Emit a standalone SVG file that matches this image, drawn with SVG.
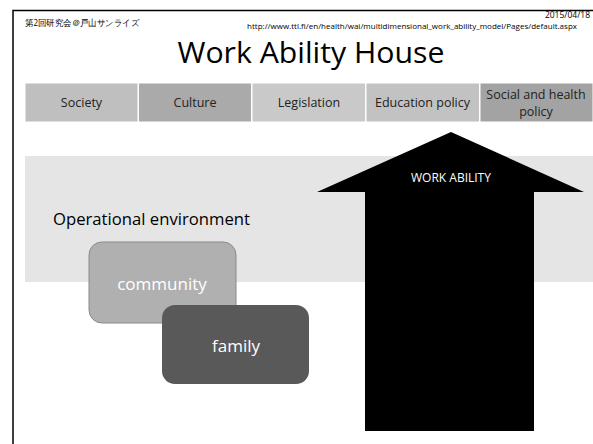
<svg xmlns="http://www.w3.org/2000/svg" width="593" height="444" viewBox="0 0 593 444">
<style>
text{font-family:"Open Sans","Liberation Sans",sans-serif;}
.hdr{font-size:12.5px;fill:#222;text-anchor:middle;}
.cell{stroke:#fff;stroke-width:1;}
.wt{fill:#fff;text-anchor:middle;}
</style>
<rect width="593" height="444" fill="#fff"/>
<path d="M13 444 V10.5 H593" fill="none" stroke="#000" stroke-width="1.5"/>
<text x="25" y="26" font-size="8.5" font-family="'Noto Sans CJK JP',sans-serif" fill="#000" textLength="114" lengthAdjust="spacingAndGlyphs">第2回研究会＠戸山サンライズ</text>
<text x="590" y="18" font-size="8.5" text-anchor="end" fill="#000">2015/04/18</text>
<text x="577" y="29" font-size="7" text-anchor="end" fill="#000" textLength="330" lengthAdjust="spacingAndGlyphs">http://www.ttl.fi/en/health/wai/multidimensional_work_ability_model/Pages/default.aspx</text>
<text x="311" y="63" font-size="29" text-anchor="middle" fill="#000" textLength="267" lengthAdjust="spacingAndGlyphs">Work Ability House</text>
<g id="topRow">
<g id="society"><rect class="cell" x="25" y="83" width="113" height="39" fill="#bfbfbf"/><text class="hdr" x="81.5" y="107">Society</text></g>
<g id="culture"><rect class="cell" x="138.5" y="83" width="113" height="39" fill="#aaaaaa"/><text class="hdr" x="195" y="107">Culture</text></g>
<g id="legislation"><rect class="cell" x="252" y="83" width="113.5" height="39" fill="#c9c9c9"/><text class="hdr" x="309" y="107">Legislation</text></g>
<g id="education"><rect class="cell" x="366" y="83" width="113.5" height="39" fill="#c2c2c2"/><text class="hdr" x="422.5" y="107">Education policy</text></g>
<g id="social"><rect class="cell" x="480" y="83" width="113" height="39" fill="#a3a3a3"/><text class="hdr" x="536" y="99">Social and health</text><text class="hdr" x="536" y="116">policy</text></g>
</g>
<g id="environment">
<rect x="25" y="156" width="568" height="126" fill="#e5e5e5"/>
<text x="53" y="225" font-size="17" fill="#000" textLength="197" lengthAdjust="spacingAndGlyphs">Operational environment</text>
</g>
<g id="workAbility">
<polygon points="451,132 584,192 534,192 534,431 365,431 365,192 317,192" fill="#000"/>
<text class="wt" x="451" y="182" font-size="12">WORK ABILITY</text>
</g>
<g id="community">
<rect x="89" y="242" width="147" height="81" rx="13" fill="#b0b0b0" stroke="#8a8a8a" stroke-width="1"/>
<text class="wt" x="162" y="290" font-size="17">community</text>
</g>
<g id="family">
<rect x="162" y="305" width="147" height="79" rx="13" fill="#595959"/>
<text class="wt" x="236" y="352" font-size="17">family</text>
</g>
<g id="connectors"></g>
</svg>
